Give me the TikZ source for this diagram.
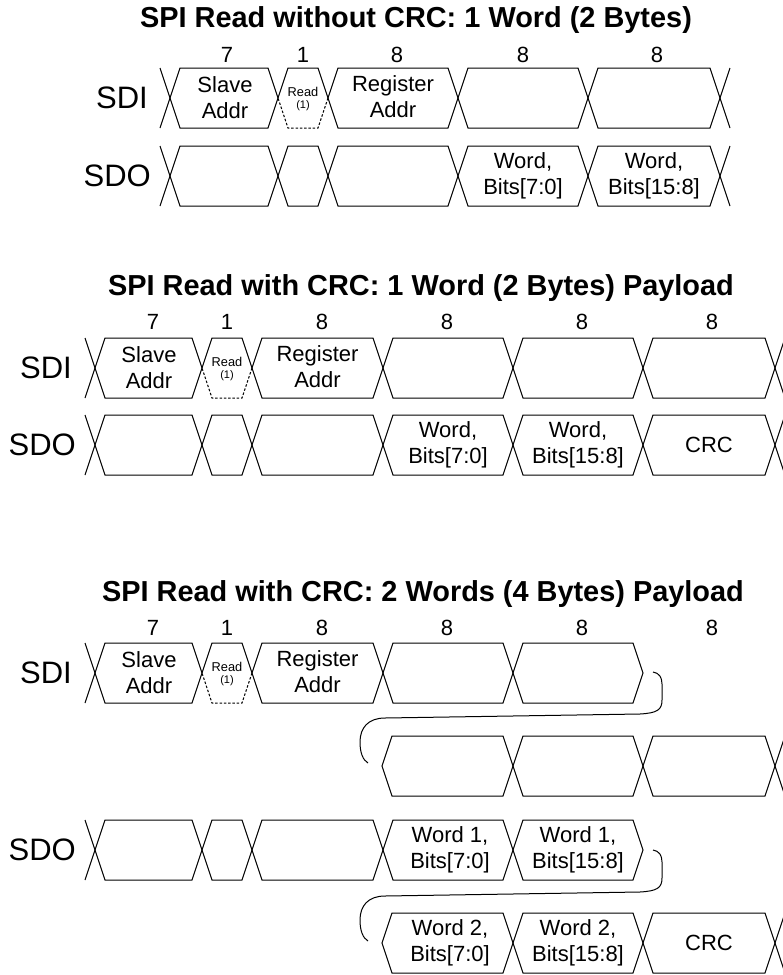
\documentclass[tikz,border=0pt]{standalone}
\usepackage{fontspec}
\setmainfont{Liberation Sans}
\tikzset{
  wave/.style={line width=1pt, line join=miter, line cap=butt},
  dashwave/.style={wave, dash pattern=on 2.5pt off 1.8pt},
  ttl/.style={font=\bfseries\fontsize{28.9}{33}\selectfont, inner sep=0pt},
  bitcount/.style={font=\fontsize{22}{24}\selectfont, inner sep=0pt},
  sig/.style={font=\fontsize{31}{34}\selectfont, anchor=east, inner sep=0pt},
  field/.style={font=\fontsize{22}{26}\selectfont, align=center, inner sep=0pt},
  small/.style={font=\fontsize{12.8}{13}\selectfont, align=center, inner sep=0pt},
  curl/.style={line width=1pt}
}
% hexagon box between crossings #2 and #3, top #4, bottom #5
\newcommand\Hex[5][wave]{\draw[#1] (#2,{(#4+#5)/2}) -- (#2+10,#4) -- (#3-10,#4) -- (#3,{(#4+#5)/2}) -- (#3-10,#5) -- (#2+10,#5) -- cycle;}
% box with dashed lower half
\newcommand\ReadHex[4]{%
  \draw[wave] (#1,{(#3+#4)/2}) -- (#1+10,#3) -- (#2-10,#3) -- (#2,{(#3+#4)/2});
  \draw[dashwave] (#2,{(#3+#4)/2}) -- (#2-10,#4) -- (#1+10,#4) -- (#1,{(#3+#4)/2});}
\newcommand\Lead[3]{\draw[wave] (#1-10,#2) -- (#1,{(#2+#3)/2}) -- (#1-10,#3);}
\newcommand\Trail[3]{\draw[wave] (#1+10,#2) -- (#1,{(#2+#3)/2}) -- (#1+10,#3);}
% bracket joining a row end to the next row start, shifted down by #1
\newcommand\Curl[2]{%
  \coordinate (#2s) at (653,672+#1);
  \coordinate (#2e) at (368,763+#1);
  \draw[curl] (#2s) .. controls (659,673+#1) and (662,677+#1) .. (662,684+#1) -- (662,700+#1)
    .. controls (662,710+#1) and (657,713+#1) .. (640,714+#1) -- (385,718+#1)
    .. controls (368,718+#1) and (360,728+#1) .. (360,742+#1)
    .. controls (360,753+#1) and (363,760+#1) .. (#2e);}
\begin{document}
\begin{tikzpicture}[x=1pt,y=-1pt]
\useasboundingbox (0,0) rectangle (783,975);
\fill[white] (0,0) rectangle (783,975);

% ---------------- Diagram 1 ----------------
\node[ttl] (T1) at (416,20) {SPI Read without CRC: 1 Word (2 Bytes)};
\node[bitcount] (a7) at (227,55) {7};
\node[bitcount] (a1) at (303,55) {1};
\node[bitcount] (a8a) at (397,55) {8};
\node[bitcount] (a8b) at (523,55) {8};
\node[bitcount] (a8c) at (657,55) {8};
\node[sig] (aSDI) at (148,98) {SDI};
\node[sig] (aSDO) at (151,176) {SDO};
% SDI
\Lead{170}{68}{128}
\Hex{170}{278}{68}{128}
\ReadHex{278}{328}{68}{128}
\Hex{328}{458}{68}{128}
\Hex{458}{588}{68}{128}
\Hex{588}{720}{68}{128}
\Trail{720}{68}{128}
% SDO
\Lead{170}{146}{206}
\Hex{170}{278}{146}{206}
\Hex{278}{328}{146}{206}
\Hex{328}{458}{146}{206}
\Hex{458}{588}{146}{206}
\Hex{588}{720}{146}{206}
\Trail{720}{146}{206}
\node[field] (aSA) at (225,98) {Slave\\Addr};
\node[small] (aRD) at (303,99) {Read\\[-1pt]{\fontsize{11}{12}\selectfont(1)}};
\node[field] (aRA) at (393,97) {Register\\Addr};
\node[field] (aW0) at (523,176) {Word,\\Bits[7:0]};
\node[field] (aW1) at (654,176) {Word,\\Bits[15:8]};

% ---------------- Diagram 2 ----------------
\node[ttl] (T2) at (421,288) {SPI Read with CRC: 1 Word (2 Bytes) Payload};
\node[bitcount] (b7) at (153,322) {7};
\node[bitcount] (b1) at (227,322) {1};
\node[bitcount] (b8a) at (322,322) {8};
\node[bitcount] (b8b) at (447,322) {8};
\node[bitcount] (b8c) at (582,322) {8};
\node[bitcount] (b8d) at (712,322) {8};
\node[sig] (bSDI) at (72,368) {SDI};
\node[sig] (bSDO) at (76,445) {SDO};
% SDI
\Lead{95}{338}{398}
\Hex{95}{202}{338}{398}
\ReadHex{202}{252}{338}{398}
\Hex{252}{383}{338}{398}
\Hex{383}{513}{338}{398}
\Hex{513}{643}{338}{398}
\Hex{643}{775}{338}{398}
\Trail{775}{338}{398}
% SDO
\Lead{95}{415}{475}
\Hex{95}{202}{415}{475}
\Hex{202}{252}{415}{475}
\Hex{252}{383}{415}{475}
\Hex{383}{513}{415}{475}
\Hex{513}{643}{415}{475}
\Hex{643}{775}{415}{475}
\Trail{775}{415}{475}
\node[field] (bSA) at (149,368) {Slave\\Addr};
\node[small] (bRD) at (227,369) {Read\\[-1pt]{\fontsize{11}{12}\selectfont(1)}};
\node[field] (bRA) at (317.5,367) {Register\\Addr};
\node[field] (bW0) at (448,445) {Word,\\Bits[7:0]};
\node[field] (bW1) at (578,445) {Word,\\Bits[15:8]};
\node[field] (bCRC) at (709,445) {CRC};

% ---------------- Diagram 3 ----------------
\node[ttl] (T3) at (423,594) {SPI Read with CRC: 2 Words (4 Bytes) Payload};
\node[bitcount] (c7) at (153,628) {7};
\node[bitcount] (c1) at (227,628) {1};
\node[bitcount] (c8a) at (322,628) {8};
\node[bitcount] (c8b) at (447,628) {8};
\node[bitcount] (c8c) at (582,628) {8};
\node[bitcount] (c8d) at (712,628) {8};
\node[sig] (cSDI) at (72,673) {SDI};
\node[sig] (cSDO) at (76,850) {SDO};
% SDI first line
\Lead{95}{643}{703}
\Hex{95}{202}{643}{703}
\ReadHex{202}{252}{643}{703}
\Hex{252}{383}{643}{703}
\Hex{383}{513}{643}{703}
\Hex{513}{643}{643}{703}
% SDI continuation
\Hex{382}{513}{736}{796}
\Hex{513}{643}{736}{796}
\Hex{643}{775}{736}{796}
\Trail{775}{736}{796}
% SDO first line
\Lead{95}{820}{880}
\Hex{95}{202}{820}{880}
\Hex{202}{252}{820}{880}
\Hex{252}{383}{820}{880}
\Hex{383}{513}{820}{880}
\Hex{513}{643}{820}{880}
% SDO continuation
\Hex{382}{513}{913}{973}
\Hex{513}{643}{913}{973}
\Hex{643}{775}{913}{973}
\Trail{775}{913}{973}
\Curl{0}{k1}
\Curl{178}{k2}
\node[field] (cSA) at (149,673) {Slave\\Addr};
\node[small] (cRD) at (227,674) {Read\\[-1pt]{\fontsize{11}{12}\selectfont(1)}};
\node[field] (cRA) at (317.5,672) {Register\\Addr};
\node[field] (cW10) at (450,850) {Word 1,\\Bits[7:0]};
\node[field] (cW11) at (578,850) {Word 1,\\Bits[15:8]};
\node[field] (cW20) at (450,943) {Word 2,\\Bits[7:0]};
\node[field] (cW21) at (578,943) {Word 2,\\Bits[15:8]};
\node[field] (cCRC) at (709,943) {CRC};
\end{tikzpicture}
\end{document}
